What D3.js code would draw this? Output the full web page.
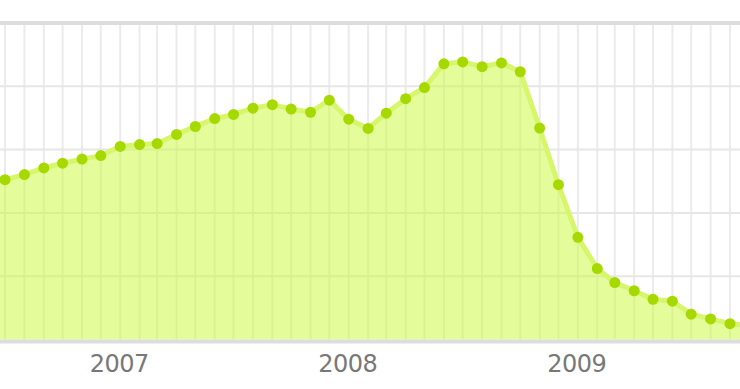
<!DOCTYPE html>
<html>
<head>
<meta charset="utf-8">
<script src="https://cdn.jsdelivr.net/npm/d3@7"></script>
<style>
  html, body { margin: 0; padding: 0; background: #fff; }
  svg { display: block; }
</style>
</head>
<body>
<div id="chart"></div>
<script>
// monthly samples, Jun 2006 .. Oct 2009 (first and last sit just outside the view)
const months = [
  "2006-06", "2006-07", "2006-08", "2006-09", "2006-10", "2006-11", "2006-12",
  "2007-01", "2007-02", "2007-03", "2007-04", "2007-05", "2007-06",
  "2007-07", "2007-08", "2007-09", "2007-10", "2007-11", "2007-12",
  "2008-01", "2008-02", "2008-03", "2008-04", "2008-05", "2008-06",
  "2008-07", "2008-08", "2008-09", "2008-10", "2008-11", "2008-12",
  "2009-01", "2009-02", "2009-03", "2009-04", "2009-05", "2009-06",
  "2009-07", "2009-08", "2009-09", "2009-10"
];
const values = [
  49.3, 50.5, 52.1, 54.2, 55.7, 57.0, 58.1,
  61.0, 61.6, 61.9, 64.8, 67.3, 69.8,
  71.1, 73.1, 74.2, 72.8, 71.8, 75.6,
  69.6, 66.7, 71.5, 76.1, 79.6, 87.1,
  87.7, 86.2, 87.4, 84.6, 66.8, 48.9,
  32.3, 22.4, 18.0, 15.4, 12.7, 12.1,
  8.0, 6.5, 5.0, 4.5
];
const yearTicks = ["2007", "2008", "2009"];
const yTicks = [0, 20, 40, 60, 80, 100];

const width = 740, height = 389;
const parseMonth = d3.timeParse("%Y-%m");
const parseYear = d3.timeParse("%Y");

const data = months.map((m, i) => ({ date: parseMonth(m), value: values[i] }));

const svg = d3.select("#chart").append("svg")
  .attr("width", width)
  .attr("height", height);

// time scale pinned so Jul 2006 lands at x=5 and Sep 2009 at x=730
const x = d3.scaleTime()
  .domain([parseMonth("2006-07"), parseMonth("2009-09")])
  .range([5, 730]);

const y = d3.scaleLinear()
  .domain([0, 100])
  .range([339.5, 23]);

// vertical month grid
const gridMonths = d3.timeMonth.range(parseMonth("2006-05"), parseMonth("2009-12"));
svg.append("g")
  .selectAll("line")
  .data(gridMonths)
  .join("line")
  .attr("x1", d => x(d))
  .attr("x2", d => x(d))
  .attr("y1", y(100))
  .attr("y2", y(0))
  .attr("stroke", "#ebebeb")
  .attr("stroke-width", 2);

// horizontal grid
svg.append("g")
  .selectAll("line")
  .data(yTicks.slice(1, -1))
  .join("line")
  .attr("x1", 0)
  .attr("x2", width)
  .attr("y1", d => y(d))
  .attr("y2", d => y(d))
  .attr("stroke", "#e6e6e6")
  .attr("stroke-width", 2);

// area (semi transparent so the grid shows through)
const area = d3.area()
  .x(d => x(d.date))
  .y0(y(0))
  .y1(d => y(d.value));

svg.append("path")
  .datum(data)
  .attr("d", area)
  .attr("fill", "#cbf937")
  .attr("fill-opacity", 0.5);

const line = d3.line()
  .x(d => x(d.date))
  .y(d => y(d.value));

svg.append("path")
  .datum(data)
  .attr("d", line)
  .attr("fill", "none")
  .attr("stroke", "#d6f66c")
  .attr("stroke-width", 5)
  .attr("stroke-linejoin", "round");

// dots
svg.append("g")
  .selectAll("circle")
  .data(data)
  .join("circle")
  .attr("cx", d => x(d.date))
  .attr("cy", d => y(d.value))
  .attr("r", 5.5)
  .attr("fill", "#a6d900");

// top / bottom frame
svg.append("line")
  .attr("x1", 0).attr("x2", width)
  .attr("y1", y(100)).attr("y2", y(100))
  .attr("stroke", "#dddddd")
  .attr("stroke-width", 4);

svg.append("line")
  .attr("x1", 0).attr("x2", width)
  .attr("y1", y(0) + 2).attr("y2", y(0) + 2)
  .attr("stroke", "#dddddd")
  .attr("stroke-width", 4);

// year labels
svg.append("g")
  .selectAll("text")
  .data(yearTicks)
  .join("text")
  .attr("x", d => x(parseYear(d)) - 1)
  .attr("y", 372)
  .attr("text-anchor", "middle")
  .attr("font-family", "DejaVu Sans, sans-serif")
  .attr("font-size", 24)
  .attr("letter-spacing", -0.5)
  .attr("fill", "#787878")
  .text(d => d);
</script>
</body>
</html>
